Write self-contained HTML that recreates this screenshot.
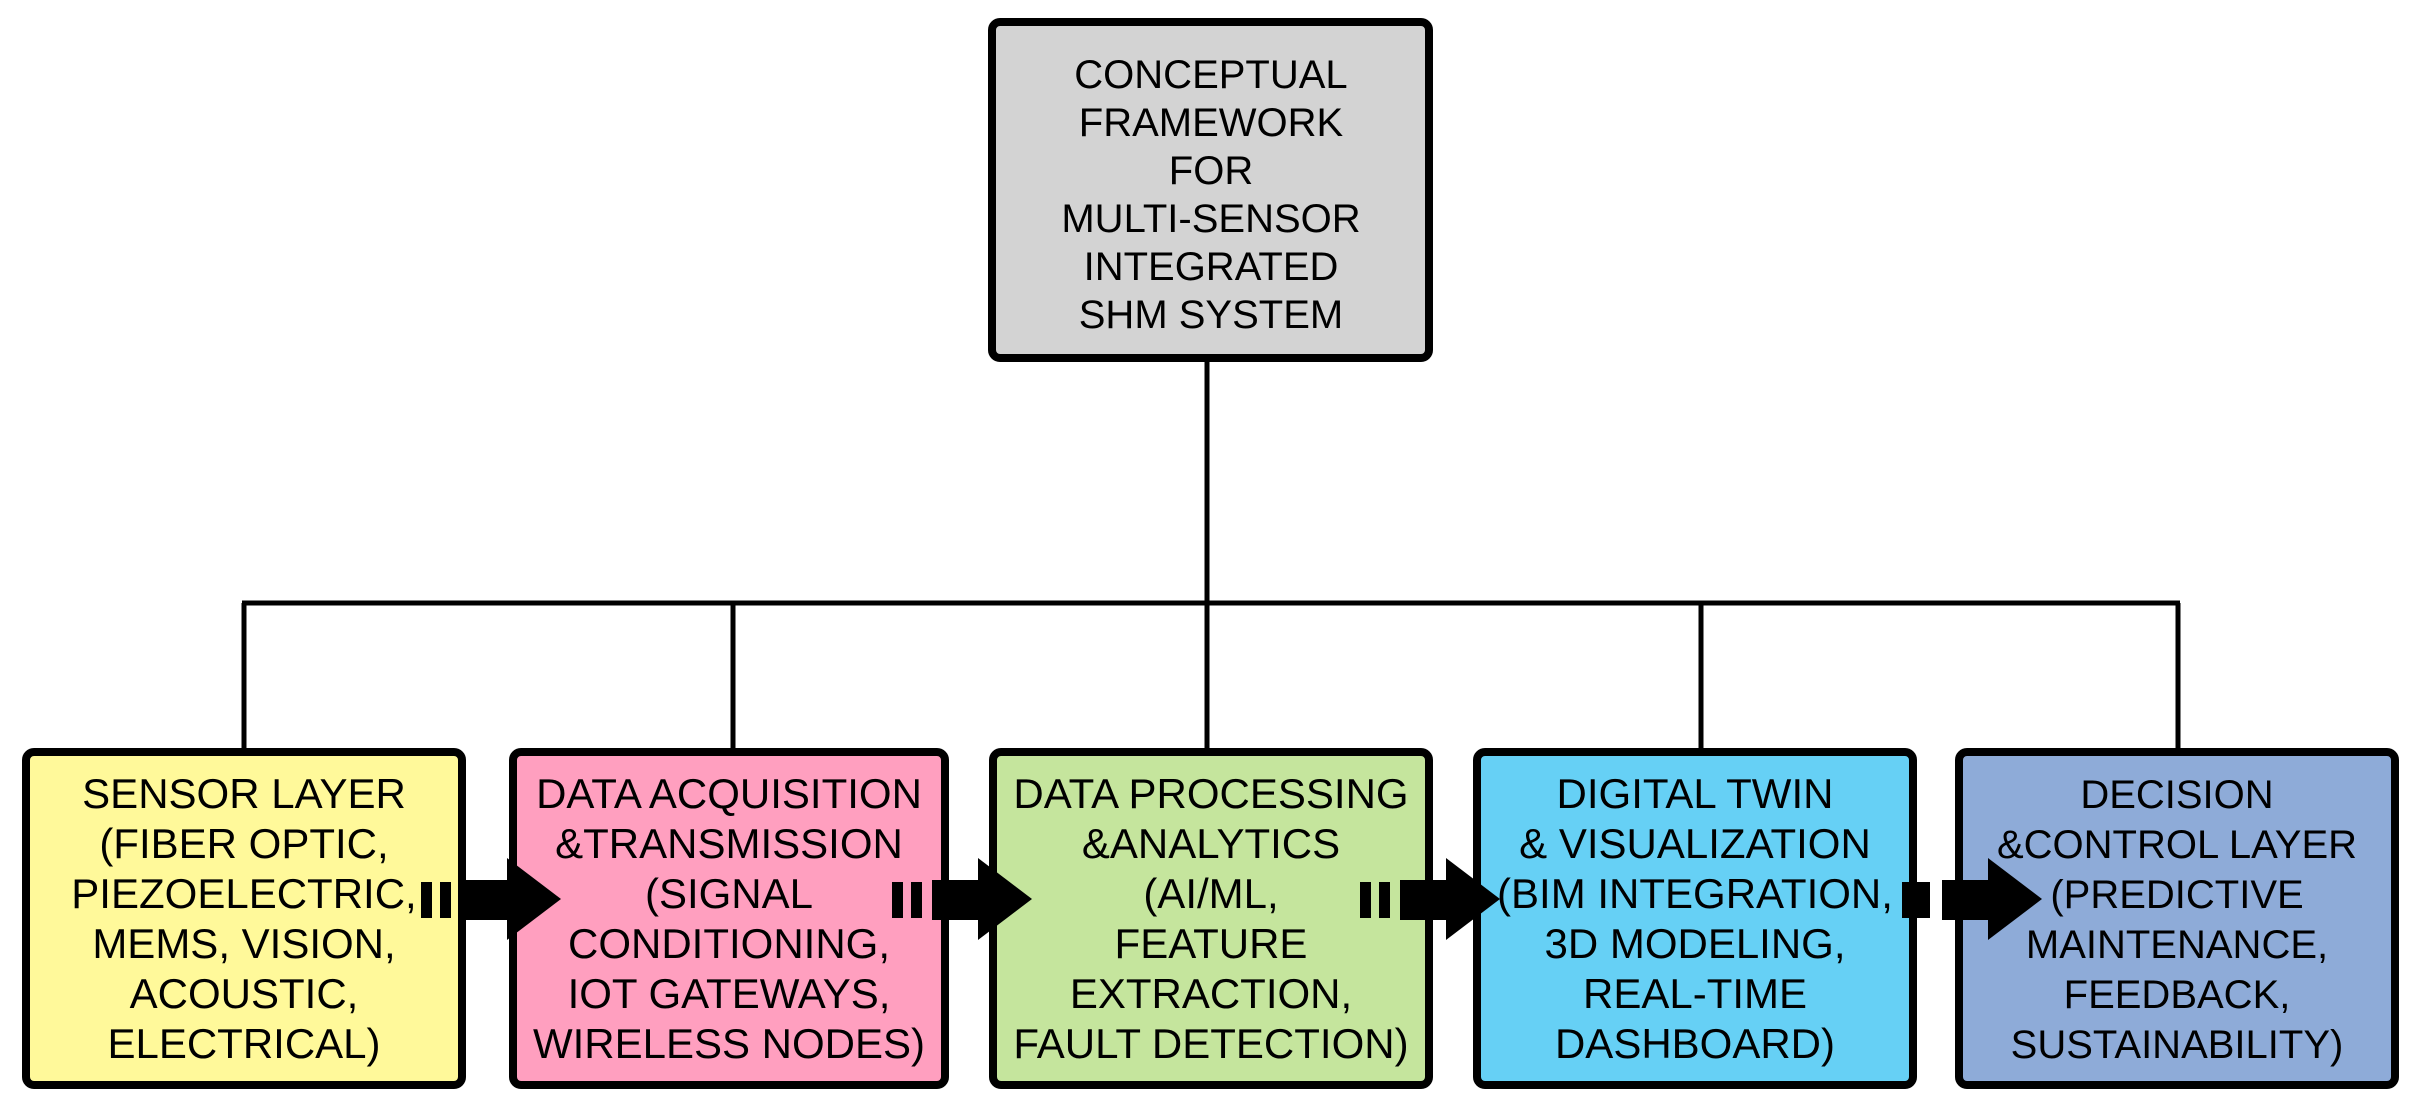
<!DOCTYPE html>
<html><head><meta charset="utf-8"><style>
html,body{margin:0;padding:0;background:#fff;}
svg{display:block;}
.t{font-family:"Liberation Sans",sans-serif;font-size:40px;fill:#000;text-anchor:middle;}
.n{font-family:"Liberation Sans Narrow","Liberation Sans",sans-serif;font-size:42px;fill:#000;text-anchor:middle;}
</style></head><body>
<svg width="2425" height="1110" viewBox="0 0 2425 1110" xmlns="http://www.w3.org/2000/svg">
<g stroke="#000" stroke-width="5" fill="none">
<line x1="1207" y1="360" x2="1207" y2="603"/>
<line x1="242" y1="603" x2="2180" y2="603"/>
<line x1="244" y1="603" x2="244" y2="750"/>
<line x1="733" y1="603" x2="733" y2="750"/>
<line x1="1207" y1="603" x2="1207" y2="750"/>
<line x1="1701" y1="603" x2="1701" y2="750"/>
<line x1="2178" y1="603" x2="2178" y2="750"/>
</g>
<g stroke="#000" stroke-width="8">
<rect x="992" y="22" width="437" height="336" rx="8" fill="#d3d3d3"/>
<rect x="26" y="752" width="436" height="333" rx="8" fill="#fff99a"/>
<rect x="513" y="752" width="432" height="333" rx="8" fill="#ff9fbf"/>
<rect x="993" y="752" width="436" height="333" rx="8" fill="#c5e59d"/>
<rect x="1477" y="752" width="436" height="333" rx="8" fill="#66d0f5"/>
<rect x="1959" y="752" width="436" height="333" rx="8" fill="#8eabd8"/>
</g>
<g class="t">
<text x="1211" y="88">CONCEPTUAL</text>
<text x="1211" y="136">FRAMEWORK</text>
<text x="1211" y="184">FOR</text>
<text x="1211" y="232">MULTI-SENSOR</text>
<text x="1211" y="280">INTEGRATED</text>
<text x="1211" y="328">SHM SYSTEM</text>
</g>
<g class="n">
<text x="244" y="808">SENSOR LAYER</text>
<text x="244" y="858">(FIBER OPTIC,</text>
<text x="244" y="908">PIEZOELECTRIC,</text>
<text x="244" y="958">MEMS, VISION,</text>
<text x="244" y="1008">ACOUSTIC,</text>
<text x="244" y="1058">ELECTRICAL)</text>
<text x="729" y="808">DATA ACQUISITION</text>
<text x="729" y="858">&amp;TRANSMISSION</text>
<text x="729" y="908">(SIGNAL</text>
<text x="729" y="958">CONDITIONING,</text>
<text x="729" y="1008">IOT GATEWAYS,</text>
<text x="729" y="1058">WIRELESS NODES)</text>
<text x="1211" y="808">DATA PROCESSING</text>
<text x="1211" y="858">&amp;ANALYTICS</text>
<text x="1211" y="908">(AI/ML,</text>
<text x="1211" y="958">FEATURE</text>
<text x="1211" y="1008">EXTRACTION,</text>
<text x="1211" y="1058">FAULT DETECTION)</text>
<text x="1695" y="808">DIGITAL TWIN</text>
<text x="1695" y="858">&amp; VISUALIZATION</text>
<text x="1695" y="908">(BIM INTEGRATION,</text>
<text x="1695" y="958">3D MODELING,</text>
<text x="1695" y="1008">REAL-TIME</text>
<text x="1695" y="1058">DASHBOARD)</text>
</g>
<g class="t">
<text x="2177" y="808">DECISION</text>
<text x="2177" y="858">&amp;CONTROL LAYER</text>
<text x="2177" y="908">(PREDICTIVE</text>
<text x="2177" y="958">MAINTENANCE,</text>
<text x="2177" y="1008">FEEDBACK,</text>
<text x="2177" y="1058">SUSTAINABILITY)</text>
</g>
<g fill="#000">
<g transform="translate(421,0)">
<rect x="0" y="882" width="11" height="36"/><rect x="19" y="882" width="11" height="36"/>
<rect x="40" y="880" width="48" height="40"/><polygon points="86,858 140,899 86,940"/>
</g>
<g transform="translate(892,0)">
<rect x="0" y="882" width="11" height="36"/><rect x="19" y="882" width="11" height="36"/>
<rect x="40" y="880" width="48" height="40"/><polygon points="86,858 140,899 86,940"/>
</g>
<g transform="translate(1360,0)">
<rect x="0" y="882" width="11" height="36"/><rect x="19" y="882" width="11" height="36"/>
<rect x="40" y="880" width="48" height="40"/><polygon points="86,858 140,899 86,940"/>
</g>
<g transform="translate(1902,0)">
<rect x="0" y="882" width="28" height="36"/>
<rect x="40" y="880" width="48" height="40"/><polygon points="86,858 140,899 86,940"/>
</g>
</g>
</svg>
</body></html>
